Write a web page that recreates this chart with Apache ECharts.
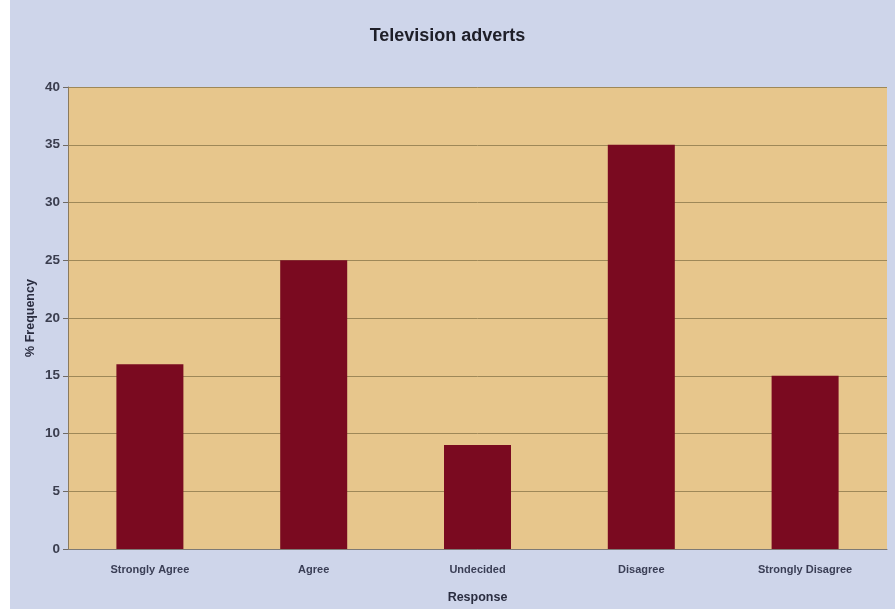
<!DOCTYPE html>
<html>
<head>
<meta charset="utf-8">
<script src="https://cdn.jsdelivr.net/npm/echarts@6/dist/echarts.min.js"></script>
<style>
  html, body { margin: 0; padding: 0; background: #ffffff; }
  #chart { width: 895px; height: 609px; }
</style>
</head>
<body>
<div id="chart"></div>
<script>
// Survey responses on television adverts (% frequency)
const categories = ['Strongly Agree', 'Agree', 'Undecided', 'Disagree', 'Strongly Disagree'];
const frequency = [16, 25, 9, 35, 15];
const yTicks = { min: 0, max: 40, interval: 5 };

const chart = echarts.init(document.getElementById('chart'));
const font = 'Liberation Sans, Arial, sans-serif';

chart.setOption({
  backgroundColor: '#ffffff',
  animation: false,
  graphic: [{
    type: 'rect',
    left: 10, top: 0, z: -10,
    shape: { width: 885, height: 609 },
    style: { fill: '#ced5ea' }
  }],
  title: {
    text: 'Television adverts',
    left: 'center',
    top: 22,
    textStyle: { fontFamily: font, fontSize: 18, fontWeight: 'bold', color: '#1e1e28' }
  },
  grid: {
    left: 68, right: 8, top: 87, bottom: 58,
    show: true,
    backgroundColor: '#e7c68c',
    borderWidth: 0
  },
  xAxis: {
    type: 'category',
    data: categories,
    name: 'Response',
    nameLocation: 'middle',
    nameGap: 42,
    nameMoveOverlap: false,
    nameTextStyle: { fontFamily: font, fontSize: 12.5, fontWeight: 'bold', color: '#2a2d40' },
    axisLine: { lineStyle: { color: '#7d7a76', width: 1 } },
    axisTick: { show: false },
    axisLabel: { fontFamily: font, fontSize: 11, fontWeight: 'bold', color: '#3a3e55', margin: 15 }
  },
  yAxis: {
    type: 'value',
    min: yTicks.min, max: yTicks.max, interval: yTicks.interval,
    name: '% Frequency',
    nameLocation: 'middle',
    nameGap: 31,
    nameMoveOverlap: false,
    nameTextStyle: { fontFamily: font, fontSize: 12.5, fontWeight: 'bold', color: '#2a2d40' },
    axisLine: { show: true, lineStyle: { color: '#8a7a5e', width: 1 } },
    axisTick: { show: true, length: 5, lineStyle: { color: '#6e6a66' } },
    axisLabel: { fontFamily: font, fontSize: 13.5, fontWeight: 'bold', color: '#3a3d4e', margin: 8 },
    splitLine: { show: true, lineStyle: { color: '#9e8858', width: 1 } }
  },
  series: [{
    type: 'bar',
    data: frequency,
    barWidth: 67,
    itemStyle: { color: '#7a0a20' }
  }]
});
</script>
</body>
</html>
